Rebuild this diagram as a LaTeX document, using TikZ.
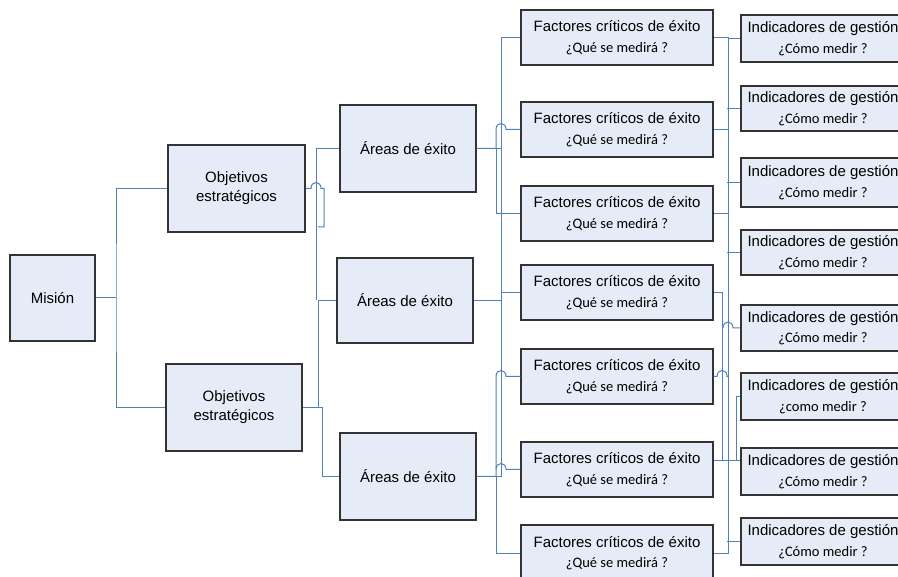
\documentclass[tikz,border=0pt]{standalone}
\usepackage{fontspec}
\setmainfont{Liberation Sans}
\newfontfamily\calibrifont{Carlito}
\definecolor{boxfill}{RGB}{230,236,247}
\definecolor{linkblue}{RGB}{79,129,189}
\begin{document}
\begin{tikzpicture}[x=1pt,y=-1pt,
  box/.style={draw=black!80, line width=1.2pt, fill=boxfill, inner sep=0pt,
    align=center, font=\fontsize{15}{19}\selectfont},
  twoline/.style={box, font=\fontsize{15}{20.5}\selectfont},
  factor/.style={twoline, minimum width=192, minimum height=55},
  indic/.style={twoline, minimum width=164},
  link/.style={draw=linkblue, line width=1pt}]
\useasboundingbox (0,0) rectangle (898,577);
\clip (0,0) rectangle (898,577);
\fill[white] (0,0) rectangle (898,577);

% --- boxes -------------------------------------------------------------
\node[box, minimum width=85, minimum height=86] (mis) at (52.5,298) {Misión};

\node[box, minimum width=137, minimum height=87] (objA) at (236.5,188.5) {Objetivos\\estratégicos};
\node[box, minimum width=136, minimum height=87] (objB) at (234,407.5) {Objetivos\\estratégicos};

\node[box, minimum width=136, minimum height=87] (areaA) at (408,148.5) {Áreas de éxito};
\node[box, minimum width=136, minimum height=85] (areaB) at (405,300.5) {Áreas de éxito};
\node[box, minimum width=136, minimum height=87] (areaC) at (408,476.5) {Áreas de éxito};

\newcommand{\factortext}{Factores críticos de éxito\\{\calibrifont\fontsize{14.5}{20.5}\selectfont ¿Qué se medirá ?}}
\node[factor] (fcA) at (617,37.5)  {\factortext};
\node[factor] (fcB) at (617,129.5) {\factortext};
\node[factor] (fcC) at (617,213.5) {\factortext};
\node[factor] (fcD) at (617,292.5) {\factortext};
\node[factor] (fcE) at (617,376.5) {\factortext};
\node[factor] (fcF) at (617,469.5) {\factortext};
\node[factor, minimum height=56] (fcG) at (617,553) {\factortext};

\newcommand{\indictext}[1]{Indicadores de gestión\\{\calibrifont\fontsize{14.5}{20.5}\selectfont #1}}
\node[indic, minimum height=47] (indA) at (823,38.5)  {\indictext{¿Cómo medir ?}};
\node[indic, minimum height=45] (indB) at (823,108.5) {\indictext{¿Cómo medir ?}};
\node[indic, minimum height=49] (indC) at (823,182.5) {\indictext{¿Cómo medir ?}};
\node[indic, minimum height=45] (indD) at (823,252.5) {\indictext{¿Cómo medir ?}};
\node[indic, minimum height=46] (indE) at (823,328)   {\indictext{¿Cómo medir ?}};
\node[indic, minimum height=47] (indF) at (823,396.5) {\indictext{¿como medir ?}};
\node[indic, minimum height=47] (indG) at (823,471.5) {\indictext{¿Cómo medir ?}};
\node[indic, minimum height=47] (indH) at (823,541.5) {\indictext{¿Cómo medir ?}};

% --- mission to objectives ---------------------------------------------
\draw[link] (mis.east) -- (116,298);
\draw[link] (objA.west) -| (116,298) |- (objB.west);

% --- objectives to areas -----------------------------------------------
\draw[link] (objB.east) -- (318,407.5) -- (318,300.5) -- (areaB.west);
\draw[link] (areaA.west) -- (316,148.5) -- (316,300.5);
\draw[link] (objA.east) -- (311,188.5) .. controls (311,180.5) and (321,180.5) .. (321,188.5)
  -- (324,188.5) -- (324,227) -- (318,227);
\draw[link] (objB.east) -- (322,407.5) -- (322,476.5) -- (areaC.west);

% --- areas to critical factors -----------------------------------------
\draw[link] (areaA.east) -- (501,148.5) |- (fcA.west);
\draw[link] (areaA.east) -- (496,148.5) -- (496,129.5)
  .. controls (496,121.5) and (506,121.5) .. (506,129.5) -- (fcB.west);
\draw[link] (496,148.5) |- (fcC.west);
\draw[link] (areaC.east) -- (501,476.5) -- (501,148.5);
\draw[link] (areaB.east) -- (501,300.5);
\draw[link] (501,292.5) -- (fcD.west);
\draw[link] (areaC.east) -- (496,476.5) -- (496,376.5)
  .. controls (496,368.5) and (506,368.5) .. (506,376.5) -- (fcE.west);
\draw[link] (496,469.5) .. controls (496,461.5) and (506,461.5) .. (506,469.5) -- (fcF.west);
\draw[link] (496,476.5) |- (fcG.west);

% --- critical factors to indicators ------------------------------------
\draw[link] (fcA.east) -- (728,37.5) |- (indA.west);
\draw[link] (728,37.5) -- (728,553) -- (fcG.east);
\draw[link] (fcB.east) -- (728,129.5);
\draw[link] (fcC.east) -- (728,213.5);
\draw[link] (indB.west) -- ++(-13,0);
\draw[link] (indC.west) -- ++(-13,0);
\draw[link] (indD.west) -- ++(-13,0);
\draw[link] (indH.west) -- ++(-13,0);
\draw[link] (fcD.east) -- (722,292.5) -- (722,461);
\draw[link] (722,328) -- (723,328) .. controls (723,320) and (733,320) .. (733,328) -- (indE.west);
\draw[link] (fcE.east) -- (717,376.5) .. controls (717,368.5) and (727,368.5) .. (727,376.5) -- (728,376.5);
\draw[link] ([yshift=8.5pt]fcF.east) -- (736,461) |- (indF.west);
\draw[link] (736,461) -- ([yshift=10.5pt]indG.west);
\end{tikzpicture}
\end{document}
